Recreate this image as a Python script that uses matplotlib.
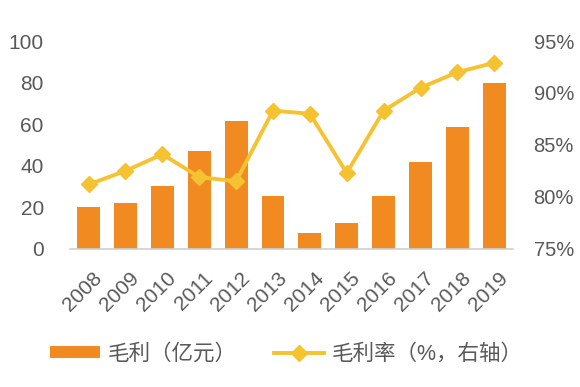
import numpy as np
import matplotlib
matplotlib.use('Agg')
import matplotlib.pyplot as plt
import matplotlib.transforms as mtransforms

plt.rcParams['font.family'] = ['Liberation Sans', 'Noto Sans CJK SC', 'DejaVu Sans']

years = ['2008', '2009', '2010', '2011', '2012', '2013',
         '2014', '2015', '2016', '2017', '2018', '2019']
gross_profit = [20, 22, 30, 47, 61.5, 25.5, 7.8, 12.6, 25.5, 42, 58.7, 80]
gross_margin = [81.2, 82.5, 84.1, 81.9, 81.5, 88.3, 88.0, 82.3, 88.3, 90.5, 92.0, 92.9]

bar_color = '#F28A22'
line_color = '#F5C232'
text_color = '#595959'

fig = plt.figure(figsize=(5.8, 3.87), dpi=100)
ax = fig.add_axes([0.121, 0.357, 0.763, 0.537])
x = np.arange(len(years))

bars = ax.bar(x, gross_profit, width=0.62, color=bar_color, label='毛利（亿元）', zorder=2)
ax.set_ylim(0, 100)
ax.set_xlim(-0.5, len(years) - 0.5)
ax.set_yticks([0, 20, 40, 60, 80, 100])
ax.set_xticks(x)
ax.set_xticklabels(years, rotation=45, ha='right', rotation_mode='anchor')
for s in ['top', 'right', 'left']:
    ax.spines[s].set_visible(False)
ax.spines['bottom'].set_color('#D0D0D0')
ax.spines['bottom'].set_linewidth(1.2)
ax.tick_params(axis='both', length=0, colors=text_color)
ax.tick_params(axis='y', labelsize=15, pad=19)
ax.tick_params(axis='x', labelsize=15, pad=14)
offset = mtransforms.ScaledTranslation(4 / 100, 0, fig.dpi_scale_trans)
for lbl in ax.get_xticklabels():
    lbl.set_transform(lbl.get_transform() + offset)

ax2 = ax.twinx()
line, = ax2.plot(x, gross_margin, color=line_color, lw=2.8, marker='D', markersize=8,
                 label='毛利率（%，右轴）', zorder=3)
ax2.set_ylim(75, 95)
ax2.set_yticks([75, 80, 85, 90, 95])
ax2.set_yticklabels(['75%', '80%', '85%', '90%', '95%'])
for s in ['top', 'right', 'left', 'bottom']:
    ax2.spines[s].set_visible(False)
ax2.tick_params(axis='y', length=0, colors=text_color, labelsize=14.5, pad=15)

fig.legend(handles=[bars, line], loc='center left', bbox_to_anchor=(0.071, 0.084),
           ncol=2, frameon=False, fontsize=15.5, handlelength=2.33, handleheight=0.5,
           columnspacing=1.7, handletextpad=0.37, labelcolor=text_color,
           borderaxespad=0)

fig.savefig('out.png', dpi=100)
